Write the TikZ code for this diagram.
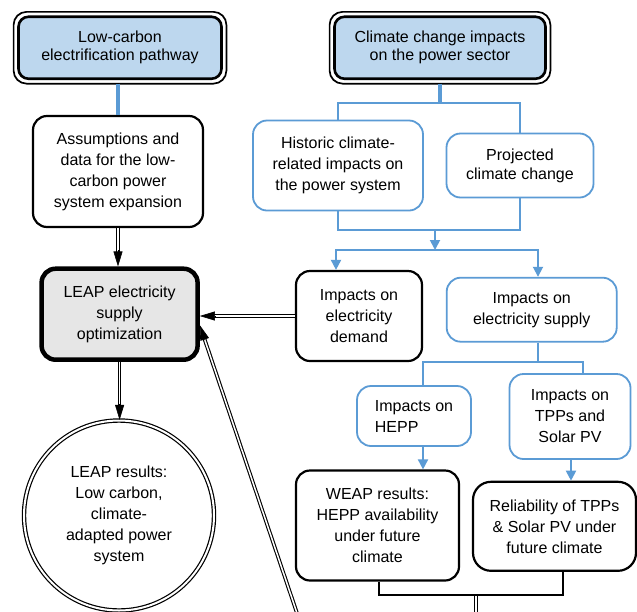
\documentclass[tikz,border=0pt]{standalone}
\usepackage{fontspec}
\setmainfont{Liberation Sans}
\usetikzlibrary{arrows.meta,calc}
\definecolor{bblue}{RGB}{91,155,213}
\definecolor{lblue}{RGB}{189,215,238}
\definecolor{lgray}{RGB}{230,230,230}
\newcommand\dblarrow[2]{%
  \draw[dbl,shorten >=11pt] (#1) -- (#2);
  \draw[dtip] ($(#2)!16pt!(#1)$) -- (#2);}
\begin{document}
\begin{tikzpicture}[x=1pt,y=-1pt,
  base/.style={rounded corners=14pt, align=center, inner sep=0pt,
    font=\fontsize{16}{21}\selectfont, text=black},
  blkbox/.style={base, draw=black, line width=2.2pt},
  blubox/.style={base, draw=bblue, line width=1.8pt},
  topbox/.style={base, draw=black, line width=2.6pt, fill=lblue,
    rounded corners=10pt, font=\fontsize{16}{18}\selectfont},
  dbl/.style={draw=black, double=white, line width=1.1pt, double distance=1.5pt},
  dtip/.style={draw=black, line width=0.6pt, -{Triangle[width=9pt,length=15pt]}},
  bthick/.style={draw=bblue, line width=3.5pt},
  bline/.style={draw=bblue, line width=1.8pt},
  barrow/.style={bline, -{Triangle[width=10pt,length=10pt]}},
  blkline/.style={draw=black, line width=2.4pt}]
\useasboundingbox (0,0) rectangle (637,611);
\fill[white] (0,0) rectangle (637,611);
\clip (0,0) rectangle (637,611);

% top boxes
\node[topbox, minimum width=203pt, minimum height=62pt] (lowc) at (120,47.75)
  {Low-carbon\\electrification pathway};
\draw[line width=1.7pt, rounded corners=13pt]
  ([shift={(-3.6pt,3.6pt)}]lowc.north west) rectangle ([shift={(3.6pt,-3.6pt)}]lowc.south east);
\node[topbox, minimum width=211pt, minimum height=62pt] (climate) at (440,47.75)
  {Climate change impacts\\on the power sector};
\draw[line width=1.7pt, rounded corners=13pt]
  ([shift={(-3.6pt,3.6pt)}]climate.north west) rectangle ([shift={(3.6pt,-3.6pt)}]climate.south east);

% boxes
\node[blkbox, minimum width=170pt, minimum height=111pt] (assump) at (118,171.5)
  {Assumptions and\\data for the low-\\carbon power\\system expansion};
\node[blubox, minimum width=170pt, minimum height=90pt] (hist) at (338,165.5)
  {Historic climate-\\related impacts on\\the power system};
\node[blubox, minimum width=147pt, minimum height=64pt, font=\fontsize{16}{19}\selectfont] (proj) at (520,165.5)
  {Projected\\climate change};
\node[base, draw=black, line width=4.5pt, fill=lgray, minimum width=156pt, minimum height=91pt] (leap) at (119.6,314.2)
  {LEAP electricity\\supply\\optimization};
\node[blkbox, minimum width=126pt, minimum height=90pt] (demand) at (359,316)
  {Impacts on\\electricity\\demand};
\node[blubox, minimum width=170pt, minimum height=64pt] (supply) at (531.7,309.7)
  {Impacts on\\electricity supply};
\node[blubox, minimum width=114pt, minimum height=60pt, align=left] (hepp) at (414,416)
  {Impacts on\\HEPP};
\node[blubox, minimum width=121pt, minimum height=85pt] (tpps) at (570,416.5)
  {Impacts on\\TPPs and\\Solar PV};
\node[blkbox, minimum width=163pt, minimum height=110pt] (weap) at (377.5,525.5)
  {WEAP results:\\HEPP availability\\under future\\climate};
\node[blkbox, rounded corners=18pt, minimum width=163pt, minimum height=89pt] (reliab) at (554.5,526.3)
  {Reliability of TPPs\\\& Solar PV under\\future climate};
\node[base, circle, draw=black, double=white, line width=1.2pt, double distance=2pt,
  minimum size=190pt] (circ) at (119,515.5)
  {LEAP results:\\Low carbon,\\climate-\\adapted power\\system};

% blue connectors
\coordinate (lb) at ([yshift=-3.6pt]lowc.south);
\draw[bthick] (lb -| assump.north) -- (assump.north);
\coordinate (cb) at ([yshift=-3.6pt]climate.south);
\coordinate (j1) at (440,103);
\draw[bthick] (cb) -- (j1);
\draw[bline] (hist.north) |- (j1) -| (proj.north);
\coordinate (j2) at (435,230);
\draw[bline] (hist.south) |- (j2) -| (proj.south);
\coordinate (j3) at (435,250);
\draw[barrow] (j2) -- (j3);
\coordinate (xd) at (336,0);
\coordinate (xs) at (538,0);
\draw[barrow] (j3) -| (demand.north -| xd);
\draw[barrow] (j3) -| (supply.north -| xs);
\coordinate (j4) at (538,362);
\coordinate (xh) at (423,0);
\coordinate (xt) at (583,0);
\draw[bline] (supply.south -| j4) -- (j4);
\draw[bline] (hepp.north -| xh) |- (j4) -| (tpps.north -| xt);
\coordinate (xt2) at (571,0);
\draw[barrow] (hepp.south -| xh) -- (weap.north -| xh);
\draw[barrow] (tpps.south -| xt2) -- (reliab.north -| xt2);

% black connectors
\coordinate (wj) at (379,595);
\coordinate (rj) at (563,595);
\coordinate (mj) at (476,595);
\coordinate (mb) at (476,625);
\draw[dbl] (mj) -- (mb);
\draw[blkline] (weap.south -| wj) -- (wj) -- (rj) -- (reliab.south -| rj);

% double arrows
\coordinate (la) at (assump.south |- leap.north);
\dblarrow{assump.south}{la}
\coordinate (le) at (demand.west -| leap.east);
\dblarrow{demand.west}{le}
\coordinate (ct) at (leap.south |- circ.north);
\dblarrow{leap.south}{ct}
\coordinate (d1) at (301,625);
\coordinate (d2) at ([yshift=-11pt]leap.east);
\dblarrow{d1}{d2}
\end{tikzpicture}
\end{document}
